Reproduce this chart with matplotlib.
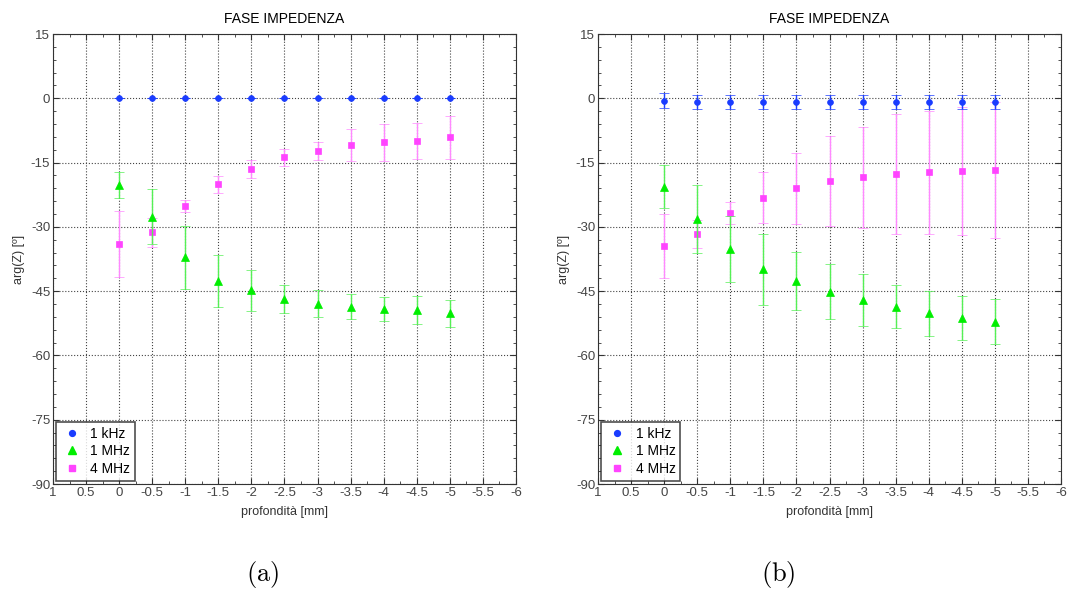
import matplotlib
matplotlib.use("Agg")
import matplotlib.pyplot as plt
from matplotlib.ticker import MultipleLocator, FixedLocator
from matplotlib.lines import Line2D

plt.rcParams['font.family'] = ['Liberation Sans', 'DejaVu Sans']
plt.rcParams['axes.unicode_minus'] = False
plt.rcParams['mathtext.fontset'] = 'cm'

depth = [0, -0.5, -1, -1.5, -2, -2.5, -3, -3.5, -4, -4.5, -5]
series_labels = ["1 kHz", "1 MHz", "4 MHz"]

# panel (a)
a_1k = [0, 0, 0, 0, 0, 0, 0, 0, 0, 0, 0]
a_1k_err = [0, 0, 0, 0, 0, 0, 0, 0, 0, 0, 0]
a_1M = [-20.2, -27.6, -37.1, -42.6, -44.8, -46.8, -47.9, -48.6, -49.1, -49.4, -50.2]
a_1M_err = [3.0, 6.5, 7.3, 6.1, 4.8, 3.3, 3.2, 3.0, 2.8, 3.3, 3.2]
a_4M = [-34.0, -31.3, -25.1, -20.1, -16.4, -13.8, -12.2, -10.9, -10.3, -9.9, -9.1]
a_4M_err = [7.7, 3.3, 1.4, 2.0, 2.1, 2.0, 2.1, 3.7, 4.3, 4.2, 5.0]

# panel (b)
b_1k = [-0.55, -0.8, -0.8, -0.8, -0.8, -0.8, -0.8, -0.8, -0.8, -0.8, -0.8]
b_1k_err = [1.8, 1.6, 1.6, 1.6, 1.6, 1.6, 1.6, 1.6, 1.6, 1.6, 1.6]
b_1M = [-20.6, -28.2, -35.2, -39.9, -42.6, -45.1, -47.1, -48.6, -50.2, -51.2, -52.1]
b_1M_err = [5.1, 8.0, 7.7, 8.3, 6.8, 6.4, 6.0, 5.1, 5.3, 5.1, 5.2]
b_4M = [-34.5, -31.7, -26.8, -23.2, -21.0, -19.2, -18.4, -17.7, -17.3, -17.0, -16.7]
b_4M_err = [7.5, 3.3, 2.6, 6.0, 8.3, 10.5, 11.8, 14.0, 14.3, 14.9, 15.8]

x_ticks = [1, 0.5, 0, -0.5, -1, -1.5, -2, -2.5, -3, -3.5, -4, -4.5, -5, -5.5, -6]
y_ticks = [15, 0, -15, -30, -45, -60, -75, -90]

c_blue = '#1a3cff'
c_green = '#00ee00'
c_mag = '#ff44ff'
c_green_e = '#55f055'
c_mag_e = '#ff88ff'

fig = plt.figure(figsize=(10.70, 5.92), dpi=100)
ax_a = fig.add_axes([0.0495, 0.1824, 0.4327, 0.7601])
ax_b = fig.add_axes([0.5589, 0.1824, 0.4327, 0.7601])

def draw(ax, s1k, e1k, s1M, e1M, s4M, e4M, caption, capx):
    ax.errorbar(depth, s1k, yerr=e1k, fmt='o', color=c_blue, ecolor=c_blue,
                markersize=4.2, markeredgewidth=0.5, capsize=3.5, elinewidth=1,
                capthick=1, zorder=5)
    ax.errorbar(depth, s1M, yerr=e1M, fmt='^', color=c_green, ecolor=c_green_e,
                markersize=6.2, markeredgewidth=0.5, capsize=3.5, elinewidth=1,
                capthick=1, zorder=4)
    ax.errorbar(depth, s4M, yerr=e4M, fmt='s', color=c_mag, ecolor=c_mag_e,
                markersize=4.2, markeredgewidth=0.5, capsize=3.5, elinewidth=1,
                capthick=1, zorder=3)
    ax.set_xlim(1, -6)
    ax.set_ylim(-90, 15)
    ax.xaxis.set_major_locator(FixedLocator(x_ticks))
    ax.set_xticklabels([('%g' % t) for t in x_ticks])
    ax.xaxis.set_minor_locator(MultipleLocator(0.25))
    ax.yaxis.set_major_locator(FixedLocator(y_ticks))
    ax.yaxis.set_minor_locator(MultipleLocator(3))
    ax.tick_params(which='both', direction='in', top=True, right=True, labelsize=9.5,
                   labelcolor='#444444', color='#333333', pad=2)
    ax.tick_params(which='major', length=4.5)
    ax.tick_params(which='minor', length=2.5)
    ax.grid(True, which='major', linestyle=':', color='#444444', linewidth=0.8)
    for sp in ax.spines.values():
        sp.set_color('#333333')
    ax.set_title('FASE IMPEDENZA', fontsize=10, pad=8)
    ax.set_xlabel('profondità [mm]', fontsize=9, labelpad=5, color='#333333')
    ax.set_ylabel('arg(Z) [º]', fontsize=9, labelpad=4, color='#333333')
    handles = [
        Line2D([], [], linestyle='none', marker='o', color=c_blue, markersize=4.2),
        Line2D([], [], linestyle='none', marker='^', color=c_green, markersize=6.2),
        Line2D([], [], linestyle='none', marker='s', color=c_mag, markersize=4.2),
    ]
    leg = ax.legend(handles, series_labels, loc='lower left', fontsize=10,
                    frameon=True, fancybox=False, borderaxespad=0.25,
                    handlelength=1.5, handletextpad=0.6, borderpad=0.35,
                    labelspacing=0.25)
    leg.get_frame().set_edgecolor('#222222')
    leg.get_frame().set_linewidth(1.2)
    fig.text(capx, 0.018, r'$\mathrm{' + caption + '}$', fontsize=19, ha='center')

draw(ax_a, a_1k, a_1k_err, a_1M, a_1M_err, a_4M, a_4M_err, '(a)', 263 / 1070)
draw(ax_b, b_1k, b_1k_err, b_1M, b_1M_err, b_4M, b_4M_err, '(b)', 778 / 1070)

fig.savefig('out.png', dpi=100)
